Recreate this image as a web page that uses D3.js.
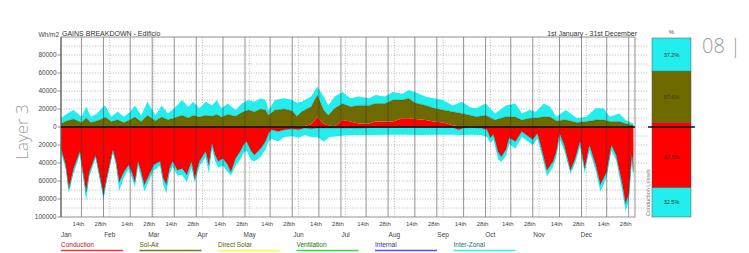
<!DOCTYPE html>
<html>
<head>
<meta charset="utf-8">
<script src="https://cdn.jsdelivr.net/npm/d3@7"></script>
<style>
body { margin: 0; background: #fff; }
svg { display: block; font-family: "Liberation Sans", Arial, sans-serif; }
</style>
</head>
<body>
<svg id="chart" width="749" height="253"></svg>
<script>
// all series values are in thousands of Wh/m2
const UNIT = 1000;

// LOSSES (below zero), read at the turning points of the curve
const lossDays = [1,4,6,9,13,15,17,19,23,26,28,30,34,36,38,41,44,46,48,50,52,54,56,60,64,66,68,70,72,75,
	78,81,84,86,89,93,95,97,99,101,104,107,109,112,115,117,119,122,124,128,131,133,135,139,143,148,
	152,156,160,164,168,172,178,185,192,200,210,220,230,240,250,254,257,262,268,272,274,276,279,281,
	284,286,290,294,297,301,304,307,310,314,316,318,321,325,328,331,334,337,341,344,348,351,354,358,
	360,362,364,365];
const conductionLoss = [-24,-42,-68,-46,-27,-50,-72,-50,-31,-57,-75,-57,-25,-38,-61,-50,-42,-50,-61,-38,-50,-64,-57,-42,-38,-57,-64,-46,-38,-48,
	-46,-53,-38,-57,-38,-27,-42,-18,-31,-38,-35,-42,-50,-35,-27,-20,-16,-27,-31,-24,-16,-7,-3,-5,-3,-2,
	-3,-1,-2,-1,-1,-1,-1,-1,-1,-0.5,-0.5,-0.5,-0.5,-0.5,-0.5,-3,-1,-0.5,-1,-3,-12,-8,-28,-33,
	-25,-12,-16,-5,-9,-14,-7,-27,-48,-38,-27,-7,-20,-48,-35,-16,-46,-20,-42,-64,-50,-20,-31,-64,
	-85,-75,-30,-50];
const interZonalLoss = [-4,-5,-6,-5,-4,-5,-10,-5,-4,-5,-6,-5,-4,-5,-10,-6,-5,-6,-6,-5,-6,-8,-6,-6,-5,-7,-10,-6,-6,-6,
	-7,-8,-7,-5,-6,-6,-10,-6,-7,-7,-8,-8,-4,-8,-9,-9,-10,-10,-7,-9,-9,-9,-10,-11,-8,-8,
	-9,-8,-9,-10,-15,-10,-9,-8,-8,-8.5,-8,-8,-8.5,-8,-8,-6,-8,-8,-8,-8,-6,-6,-8,-6,
	-7,-7,-8,-6,-6,-6,-6,-6,-7,-6,-6,-6,-6,-4,-5,-6,-5,-6,-6,-8,-6,-6,-6,-8,
	-9,-8,-8,-8];

// GAINS (above zero)
const gainDays = [1,5,9,14,17,20,24,27,29,33,37,41,45,48,52,56,61,65,69,73,78,82,85,89,93,97,100,103,107,112,
	116,120,124,128,131,133,137,143,148,151,154,160,164,168,171,175,180,185,190,197,201,207,212,218,222,
	226,233,238,244,250,256,261,265,271,277,284,290,294,299,303,308,312,316,322,329,335,341,346,350,356,
	360,365];
const conductionGain = [0,0,0,0,0,0,0,0,0,0,0,0,0,0,0,0,0,0,0,0,0,0,0,0,0,0,0,0,0,0,
	0,0,0,0,0,0,0,0,0,0,0,3,11,4,2,0.5,7.8,6,4,4,6,6,6,9.6,9.6,
	9,7.8,6,5,2,0,0,0,0,0,0,0,0,0,0,0,0,0,0,0,0,0,0,0,0,
	0,0];
const solAirGain = [4,7,9,5,10,5,7,9,11,6,8,5,8,11,6,13,7,11,8,10,13,10,13,11,13,12,14,11,14,12,
	16,19,17,20,19,13,19,20,18,12,17,19.6,24.5,15,11,20.2,18.2,16.6,20,20,20,20,24,20.4,22.4,
	18,16.2,15,14,15,15,13,11.5,13,7.8,11.5,11,7.8,9.6,10,11.5,11,7,8,5,6,7.8,8,6,6,
	4,2];
const interZonalGain = [5.6,8,10,6.5,12.6,6.5,8,11.7,13,5.5,9,6.5,9,13,7,15,6,13,7,10.7,17,12.6,15,9.7,15,12,16,9.7,12,7,
	10,11,11,12,11,6,11,12,12,15,11,11.4,9.5,15,11,13.3,13,9.4,10,8,9.5,8,9,7,9,
	12,9.7,11,11,7,13,9,9.2,13,7.2,12.5,15,7.2,9.4,7,14.5,11.6,4.5,11,4.6,5.5,12.9,12.7,5.5,9,
	3.8,2];

// AXES
const monthNames = ["Jan","Feb","Mar","Apr","May","Jun","Jul","Aug","Sep","Oct","Nov","Dec"];
const monthStarts = [1,32,60,91,121,152,182,213,244,274,305,335];
const yTicks = [80000,60000,40000,20000,0,-20000,-40000,-60000,-80000,-100000];

// LEGEND
const legendNames = ["Conduction","Sol-Air","Direct Solar","Ventilation","Internal","Inter-Zonal"];
const legendColors = ["#ff3030","#7a7a10","#ffff30","#30e030","#5050ff","#30f0f0"];
const legendText = ["#a02020","#5a5a10","#606010","#207020","#303090","#207070"];

// PERCENTAGE BAR
const gainShares = [5.2, 57.6, 37.2];   // conduction, sol-air, inter-zonal
const lossShares = [67.5, 32.5];        // conduction, inter-zonal

const RED = "#ff0000", OLIVE = "#6e6a00", CYAN = "#22eeee";

let svg = d3.select("#chart");
let pLeft = 61, pRight = 635, pTop = 37, pBottom = 217;

let x = d3.scaleLinear().domain([1, 366]).range([pLeft, pRight]);
let y = d3.scaleLinear().domain([-100000, 100000]).range([pBottom, pTop]);

// horizontal dotted grid
svg.append("g")
.selectAll("line")
.data(d3.range(-90000, 100000, 10000))
.enter()
.append("line")
.attr("x1", pLeft).attr("x2", 648)
.attr("y1", d=>y(d)).attr("y2", d=>y(d))
.attr("stroke", "#8a8a8a")
.attr("stroke-width", 0.6)
.attr("stroke-dasharray", "1,1.6");

// month start dotted lines
svg.append("g")
.selectAll("line")
.data(monthStarts.slice(1))
.enter()
.append("line")
.attr("x1", d=>x(d)).attr("x2", d=>x(d))
.attr("y1", pTop).attr("y2", pBottom)
.attr("stroke", "#999")
.attr("stroke-width", 0.7)
.attr("stroke-dasharray", "1,1.6");

svg.append("clipPath").attr("id", "plotclip")
.append("rect").attr("x", pLeft).attr("y", pTop).attr("width", pRight-pLeft).attr("height", pBottom-pTop);

let plot = svg.append("g").attr("clip-path", "url(#plotclip)");

// stacks
let gainRows = gainDays.map((d,i)=>({day: d, cond: conductionGain[i]*UNIT, sol: solAirGain[i]*UNIT, iz: interZonalGain[i]*UNIT}));
let lossRows = lossDays.map((d,i)=>({day: d, cond: conductionLoss[i]*UNIT, iz: interZonalLoss[i]*UNIT}));

let gainStack = d3.stack().keys(["cond","sol","iz"])(gainRows);
let lossStack = d3.stack().keys(["cond","iz"]).offset(d3.stackOffsetDiverging)(lossRows);

let area = d3.area()
.x(d=>x(d.data.day))
.y0(d=>y(d[0]))
.y1(d=>y(d[1]));

let edge = d3.line()
.x(d=>x(d.data.day))
.y(d=>y(d[1]));

let gainFill = {cond: RED, sol: OLIVE, iz: CYAN};
let lossFill = {cond: RED, iz: CYAN};

plot.selectAll(".gain")
.data(gainStack)
.enter()
.append("path")
.attr("class", "gain")
.attr("d", area)
.attr("fill", d=>gainFill[d.key]);

plot.selectAll(".loss")
.data(lossStack)
.enter()
.append("path")
.attr("class", "loss")
.attr("d", area)
.attr("fill", d=>lossFill[d.key]);

// dark edges of the bands
plot.selectAll(".lossedge")
.data(lossStack)
.enter()
.append("path")
.attr("d", edge)
.attr("fill", "none")
.attr("stroke", "#2a2a2a")
.attr("stroke-opacity", 0.6)
.attr("stroke-width", 0.6);

plot.append("path")
.datum(gainStack[1])
.attr("d", edge)
.attr("fill", "none")
.attr("stroke", "#3a3a00")
.attr("stroke-opacity", 0.5)
.attr("stroke-width", 0.5);

// solid lines on the 14th and 28th
let dayMarks = [];
monthStarts.forEach(d=>{ dayMarks.push({day: d+13, label: "14th"}); dayMarks.push({day: d+27, label: "28th"}); });

svg.append("g")
.selectAll("line")
.data(dayMarks)
.enter()
.append("line")
.attr("x1", d=>x(d.day)).attr("x2", d=>x(d.day))
.attr("y1", pTop).attr("y2", pBottom)
.attr("stroke", "#3c3c3c")
.attr("stroke-opacity", 0.55)
.attr("stroke-width", 1);

// plot frame
svg.append("rect")
.attr("x", pLeft).attr("y", pTop)
.attr("width", pRight-pLeft).attr("height", pBottom-pTop)
.attr("fill", "none")
.attr("stroke", "#777")
.attr("stroke-width", 0.8);

svg.append("line")
.attr("x1", pLeft).attr("x2", pLeft)
.attr("y1", pTop).attr("y2", pBottom)
.attr("stroke", "#555");

// zero line
svg.append("line")
.attr("x1", pLeft).attr("x2", pRight)
.attr("y1", y(0)).attr("y2", y(0))
.attr("stroke", "#111")
.attr("stroke-width", 1.4);

// y labels
let yAxis = svg.append("g");
yAxis.selectAll("text")
.data(yTicks)
.enter()
.append("text")
.attr("x", 56.5)
.attr("y", d=>y(d)+2.3)
.attr("text-anchor", "end")
.attr("font-size", 6.5)
.attr("fill", "#444")
.text(d=>Math.abs(d));

yAxis.selectAll("line")
.data(yTicks)
.enter()
.append("line")
.attr("x1", 57.5).attr("x2", pLeft)
.attr("y1", d=>y(d)).attr("y2", d=>y(d))
.attr("stroke", "#666")
.attr("stroke-width", 0.7);

svg.append("text")
.attr("x", 59).attr("y", 37)
.attr("text-anchor", "end")
.attr("font-size", 6.5)
.attr("fill", "#444")
.text("Wh/m2");

// x labels
svg.append("g")
.selectAll("text")
.data(dayMarks)
.enter()
.append("text")
.attr("x", d=>x(d.day)-3)
.attr("y", 225.5)
.attr("text-anchor", "middle")
.attr("font-size", 6)
.attr("fill", "#444")
.text(d=>d.label);

svg.append("g")
.selectAll("text")
.data(monthNames)
.enter()
.append("text")
.attr("x", (d,i)=> i==0 ? pLeft : x(monthStarts[i]))
.attr("y", 236.5)
.attr("text-anchor", (d,i)=> i==0 ? "start" : "middle")
.attr("font-size", 6.5)
.attr("fill", "#444")
.text(d=>d);

// titles
svg.append("text")
.attr("x", 62).attr("y", 35.5)
.attr("font-size", 7)
.attr("fill", "#333")
.text("GAINS BREAKDOWN - Edificio");

svg.append("text")
.attr("x", 637).attr("y", 35.5)
.attr("text-anchor", "end")
.attr("font-size", 7)
.attr("fill", "#333")
.text("1st January - 31st December");

// legend
let legend = svg.append("g")
.selectAll("g")
.data(legendNames)
.enter()
.append("g")
.attr("transform", (d,i)=>`translate(${61 + i*78.5},0)`);

legend.append("text")
.attr("x", 0).attr("y", 246.5)
.attr("font-size", 6.5)
.attr("fill", (d,i)=>legendText[i])
.text(d=>d);

legend.append("line")
.attr("x1", 0).attr("x2", 62)
.attr("y1", 250.5).attr("y2", 250.5)
.attr("stroke", (d,i)=>legendColors[i])
.attr("stroke-width", 1.6);

// percentage bar
let barX = 652, barW = 39;
let pctUp = d3.scaleLinear().domain([0, 100]).range([127, 38]);
let pctDown = d3.scaleLinear().domain([0, 100]).range([127, 217]);

let gainPct = d3.stack().keys([0,1,2])([gainShares]);
let lossPct = d3.stack().keys([0,1])([lossShares]);
let gainPctFill = [RED, OLIVE, CYAN];
let lossPctFill = [RED, CYAN];

let bar = svg.append("g");

bar.selectAll(".gp")
.data(gainPct)
.enter()
.append("rect")
.attr("x", barX).attr("width", barW)
.attr("y", d=>pctUp(d[0][1]))
.attr("height", d=>pctUp(d[0][0]) - pctUp(d[0][1]))
.attr("fill", (d,i)=>gainPctFill[i])
.attr("stroke", "#555")
.attr("stroke-width", 0.5);

bar.selectAll(".lp")
.data(lossPct)
.enter()
.append("rect")
.attr("x", barX).attr("width", barW)
.attr("y", d=>pctDown(d[0][0]))
.attr("height", d=>pctDown(d[0][1]) - pctDown(d[0][0]))
.attr("fill", (d,i)=>lossPctFill[i])
.attr("stroke", "#555")
.attr("stroke-width", 0.5);

bar.selectAll(".gt")
.data(gainPct.filter(d=>d[0][1]-d[0][0] > 10))
.enter()
.append("text")
.attr("x", barX + barW/2)
.attr("y", d=>pctUp((d[0][0]+d[0][1])/2) + 2)
.attr("text-anchor", "middle")
.attr("font-size", 5.5)
.attr("fill", "#333")
.text(d=>(d[0][1]-d[0][0]).toFixed(1) + "%");

bar.selectAll(".lt")
.data(lossPct)
.enter()
.append("text")
.attr("x", barX + barW/2)
.attr("y", d=>pctDown((d[0][0]+d[0][1])/2) + 2)
.attr("text-anchor", "middle")
.attr("font-size", 5.5)
.attr("fill", "#333")
.text(d=>(d[0][1]-d[0][0]).toFixed(1) + "%");

bar.append("line")
.attr("x1", 648).attr("x2", 695)
.attr("y1", y(0)).attr("y2", y(0))
.attr("stroke", "#111")
.attr("stroke-width", 1.4);

bar.append("text")
.attr("x", barX + barW/2).attr("y", 34)
.attr("text-anchor", "middle")
.attr("font-size", 6)
.attr("fill", "#444")
.text("%");

svg.append("text")
.attr("transform", "translate(649.5,216) rotate(-90)")
.attr("font-size", 5.5)
.attr("fill", "#777")
.text("Conduction Losses");

// page decorations
svg.append("text")
.attr("transform", "translate(28,132) rotate(-90)")
.attr("text-anchor", "middle")
.attr("font-family", "'Open Sans', sans-serif")
.attr("font-weight", 300)
.attr("font-size", 17)
.attr("fill", "#9a9a9a")
.text("Layer 3");

svg.append("text")
.attr("x", 702).attr("y", 53)
.attr("font-family", "'Open Sans', sans-serif")
.attr("font-weight", 300)
.attr("font-size", 20)
.attr("fill", "#9a9a9a")
.text("08 |");
</script>
</body>
</html>
